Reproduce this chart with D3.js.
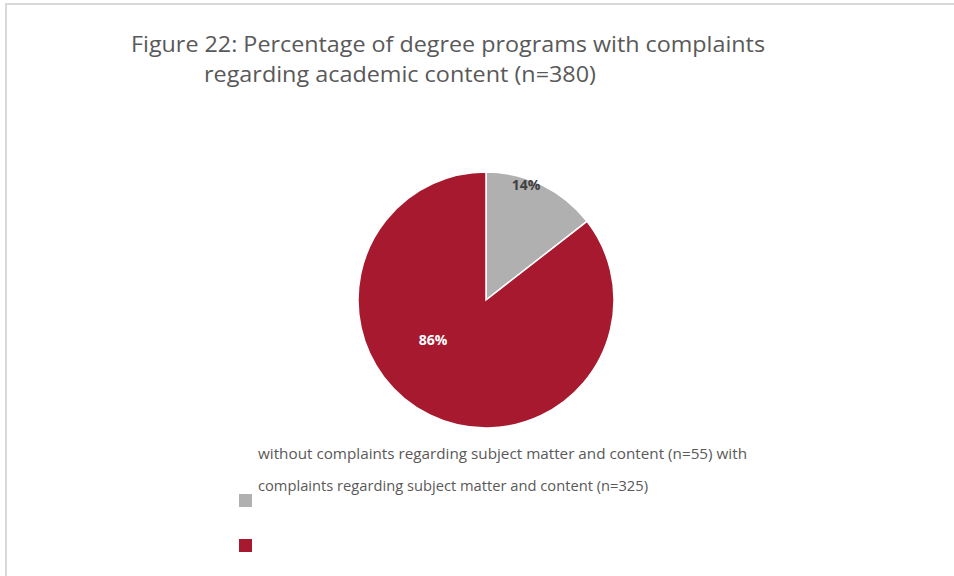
<!DOCTYPE html>
<html>
<head>
<meta charset="utf-8">
<script src="https://cdn.jsdelivr.net/npm/d3@7"></script>
<style>
  body { margin: 0; background: #fff; }
  text { font-family: "Open Sans", "Liberation Sans", sans-serif; }
</style>
</head>
<body>
<svg></svg>
<script>
var width = 954, height = 576;
var svg = d3.select("svg").attr("width", width).attr("height", height);

// data
var categories = ["without complaints regarding subject matter and content (n=55)",
                  "with complaints regarding subject matter and content (n=325)"];
var counts = [55, 325];
var sliceLabels = ["14%", "86%"];
var colors = ["#b0b0b0", "#a6192e"];
var titleLines = ["Figure 22: Percentage of degree programs with complaints",
                  "regarding academic content (n=380)"];
var legendLines = ["without complaints regarding subject matter and content (n=55) with",
                   "complaints regarding subject matter and content (n=325)"];

// outer frame
svg.append("path")
    .attr("d", "M6," + height + " V4 H" + width)
    .attr("fill", "none")
    .attr("stroke", "#d9d9d9")
    .attr("stroke-width", 2);

// title
var titleX = [131, 204], titleY = [52, 82], titleW = [634, 392];
svg.selectAll("text.title")
    .data(titleLines)
    .enter().append("text")
    .attr("class", "title")
    .attr("x", function (d, i) { return titleX[i]; })
    .attr("y", function (d, i) { return titleY[i]; })
    .attr("textLength", function (d, i) { return titleW[i]; })
    .attr("lengthAdjust", "spacingAndGlyphs")
    .attr("font-size", 22.5)
    .attr("fill", "#595959")
    .text(function (d) { return d; });

// pie
var cx = 486, cy = 300, r = 128;
var pie = d3.pie().sort(null).value(function (d) { return d; });
var arc = d3.arc().innerRadius(0).outerRadius(r);
var arcs = pie(counts);

var g = svg.append("g").attr("transform", "translate(" + cx + "," + cy + ")");
g.selectAll("path")
    .data(arcs)
    .enter().append("path")
    .attr("d", arc)
    .attr("fill", function (d, i) { return colors[i]; })
    .attr("stroke", "#fff")
    .attr("stroke-width", 1.5);

// slice labels
var labelPos = [[40, -110], [-53, 45]];
var labelFill = ["#404040", "#fff"];
g.selectAll("text")
    .data(arcs)
    .enter().append("text")
    .attr("x", function (d, i) { return labelPos[i][0]; })
    .attr("y", function (d, i) { return labelPos[i][1]; })
    .attr("text-anchor", "middle")
    .attr("font-size", 14)
    .attr("font-weight", "bold")
    .attr("fill", function (d, i) { return labelFill[i]; })
    .text(function (d, i) { return sliceLabels[i]; });

// legend
var legW = [489, 390];
svg.selectAll("text.leg")
    .data(legendLines)
    .enter().append("text")
    .attr("class", "leg")
    .attr("x", 258)
    .attr("y", function (d, i) { return 459 + i * 32; })
    .attr("textLength", function (d, i) { return legW[i]; })
    .attr("lengthAdjust", "spacingAndGlyphs")
    .attr("font-size", 14.5)
    .attr("fill", "#595959")
    .text(function (d) { return d; });

svg.selectAll("rect.sw")
    .data(categories)
    .enter().append("rect")
    .attr("class", "sw")
    .attr("x", 239)
    .attr("y", function (d, i) { return 494 + i * 45; })
    .attr("width", 13)
    .attr("height", 13)
    .attr("fill", function (d, i) { return colors[i]; });
</script>
</body>
</html>
